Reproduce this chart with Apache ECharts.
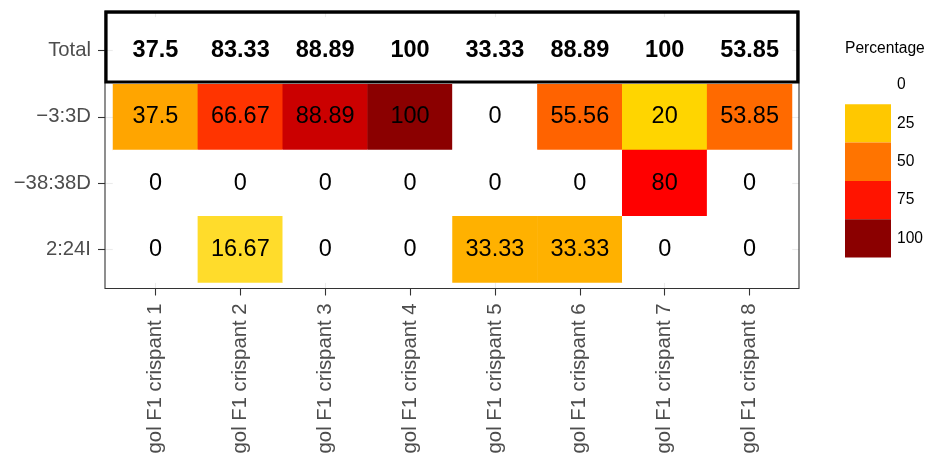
<!DOCTYPE html>
<html>
<head>
<meta charset="utf-8">
<script src="https://cdn.jsdelivr.net/npm/echarts@6.0.0/dist/echarts.min.js"></script>
<style>
  html, body { margin: 0; padding: 0; background: #fff; }
  #chart { width: 927px; height: 461px; }
</style>
</head>
<body>
<div id="chart"></div>
<script>
// categories
var crispants = ['gol F1 crispant 1', 'gol F1 crispant 2', 'gol F1 crispant 3', 'gol F1 crispant 4',
                 'gol F1 crispant 5', 'gol F1 crispant 6', 'gol F1 crispant 7', 'gol F1 crispant 8'];
var alleles = ['Total', '\u22123:3D', '\u221238:38D', '2:24I'];

// percentages per row
var totalPct = [37.5, 83.33, 88.89, 100, 33.33, 88.89, 100, 53.85];
var del3 = [37.5, 66.67, 88.89, 100, 0, 55.56, 20, 53.85];
var del38 = [0, 0, 0, 0, 0, 0, 80, 0];
var ins24 = [0, 16.67, 0, 0, 33.33, 33.33, 0, 0];

// legend
var legendBreaks = [0, 25, 50, 75, 100];
var legendColors = ['#ffffff', '#ffc800', '#ff7400', '#ff1400', '#8b0000'];
// colour ramp 0..100 in steps of 10
var rampColors = ['#ffffff', '#ffeb80', '#ffd500', '#ffbb00', '#ff9e00', '#ff7900',
                  '#ff5100', '#ff2600', '#ff0000', '#c50000', '#8b0000'];

var FONT = '"Liberation Sans", Arial, sans-serif';

var cells = [];
[del3, del38, ins24].forEach(function (row, r) {
    row.forEach(function (v, c) {
        cells.push([c, r + 1, v]);
    });
});
var totalCells = totalPct.map(function (v, c) { return [c, 0, v]; });

var chart = echarts.init(document.getElementById('chart'));

function gridTicks(pos, offset, len) {
    return {
        type: 'category', position: pos, offset: offset, gridIndex: 0,
        axisLine: { show: false },
        axisLabel: { show: false },
        splitLine: { show: false },
        axisTick: { show: true, inside: true, alignWithLabel: true, length: len,
                    lineStyle: { color: '#ebebeb', width: 1.1 } }
    };
}

var xTop = gridTicks('top', 5.5, 5.5); xTop.data = crispants;
var xBot = gridTicks('bottom', 6, 6); xBot.data = crispants;
var yLeft = gridTicks('left', 8, 8); yLeft.data = alleles; yLeft.inverse = true;
var yRight = gridTicks('right', 7, 7); yRight.data = alleles; yRight.inverse = true;

chart.setOption({
    animation: false,
    backgroundColor: '#fff',
    title: {
        text: 'Percentage', left: 845, top: 41, padding: 0,
        textStyle: { fontFamily: FONT, fontSize: 15.6, fontWeight: 'normal', color: '#000' }
    },
    grid: { left: 113, right: 135, top: 17.5, bottom: 178.5, containLabel: false, outerBoundsMode: 'none' },
    xAxis: [
        {
            type: 'category', data: crispants, position: 'bottom', offset: 6,
            axisLine: { show: false },
            axisTick: { show: true, alignWithLabel: true, length: 7, lineStyle: { color: '#333', width: 1.1 } },
            axisLabel: {
                rotate: 90, align: 'right', verticalAlign: 'middle', margin: 15,
                padding: [18, 0, 0, 0], interval: 0,
                fontFamily: FONT, fontSize: 20.3, color: '#4d4d4d'
            },
            splitLine: { show: false }
        },
        xBot, xTop
    ],
    yAxis: [
        {
            type: 'category', data: alleles, inverse: true, position: 'left', offset: 8,
            axisLine: { show: false },
            axisTick: { show: true, alignWithLabel: true, length: 7, lineStyle: { color: '#333', width: 1.1 } },
            axisLabel: { margin: 14, fontFamily: FONT, fontSize: 20.3, color: '#4d4d4d' },
            splitLine: { show: false }
        },
        yLeft, yRight
    ],
    visualMap: [
        {
            type: 'continuous', show: false, seriesIndex: 0, dimension: 2,
            min: 0, max: 100, inRange: { color: rampColors }
        },
        {
            type: 'piecewise', seriesIndex: 2, orient: 'vertical', inverse: true,
            left: 845, top: 66, padding: 0, align: 'left',
            itemWidth: 46, itemHeight: 38.3, itemGap: 0, itemSymbol: 'rect',
            textGap: 6, selectedMode: false, hoverLink: false,
            textStyle: { fontFamily: FONT, fontSize: 15.6, color: '#000' },
            pieces: legendBreaks.map(function (b, i) {
                return { value: b, label: String(b), color: legendColors[i] };
            })
        }
    ],
    series: [
        {
            type: 'heatmap', xAxisIndex: 0, yAxisIndex: 0, data: cells,
            label: {
                show: true, fontFamily: FONT, fontSize: 23.5, color: '#000',
                formatter: function (p) { return String(p.value[2]); }
            },
            emphasis: { disabled: true }
        },
        {
            type: 'heatmap', xAxisIndex: 0, yAxisIndex: 0, data: totalCells,
            itemStyle: { color: '#fff' },
            label: {
                show: true, fontFamily: FONT, fontSize: 23.5, fontWeight: 'bold', color: '#000',
                formatter: function (p) { return String(p.value[2]); }
            },
            emphasis: { disabled: true }
        },
        { type: 'scatter', xAxisIndex: 0, yAxisIndex: 0, data: [], silent: true }
    ],
    graphic: [
        {
            type: 'rect', z: 100, silent: true,
            shape: { x: 105, y: 11, width: 694, height: 277.5 },
            style: { fill: 'none', stroke: '#333', lineWidth: 1.1 }
        },
        {
            type: 'rect', z: 101, silent: true,
            shape: { x: 106, y: 12.2, width: 691.8, height: 69.8 },
            style: { fill: 'none', stroke: '#000', lineWidth: 3.2 }
        }
    ]
});
</script>
</body>
</html>
